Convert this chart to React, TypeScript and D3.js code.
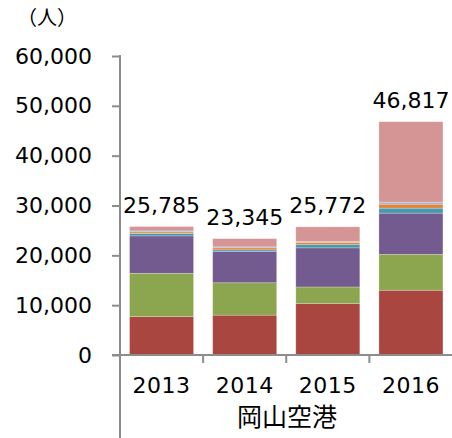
import React, { useEffect, useRef } from "react";
import * as d3 from "d3";

const years = ["2013", "2014", "2015", "2016"];
const totals = [25785, 23345, 25772, 46817];

const seriesNames = ["s1", "s2", "s3", "s4", "s5", "s6", "s7"];
const seriesColors = ["#A9463F", "#8BA64F", "#735A8F", "#4599B1", "#E0843A", "#9DB4D6", "#D59594"];
const s1 = [7700, 8000, 10300, 13000];
const s2 = [8700, 6500, 3350, 7200];
const s3 = [7500, 6300, 7850, 8270];
const s4 = [500, 300, 650, 1000];
const s5 = [300, 400, 450, 800];
const s6 = [200, 200, 150, 400];
const s7 = [885, 1645, 2972, 16147];

const yTicks = [0, 10000, 20000, 30000, 40000, 50000, 60000];
const unitLabel = "（人）";
const groupLabel = "岡山空港";

const App = () => {
  const ref = useRef<SVGSVGElement>(null);

  useEffect(() => {
    const width = 452;
    const height = 438;
    const margin = { top: 56, right: 0, bottom: 83, left: 120 };
    const font = "'DejaVu Sans', Verdana, sans-serif";

    const svg = d3.select(ref.current).attr("width", width).attr("height", height);
    svg.selectAll("*").remove();

    const table = years.map((y, i) => ({
      year: y,
      s1: s1[i], s2: s2[i], s3: s3[i], s4: s4[i], s5: s5[i], s6: s6[i], s7: s7[i],
    }));
    const stacked = d3.stack<any>().keys(seriesNames)(table);

    const x = d3.scaleBand().domain(years).range([margin.left, 452.5]).paddingInner(0.23).paddingOuter(0.115);
    const xOuter = d3.scaleBand().domain(years).range([margin.left, 452.5]);
    const y = d3.scaleLinear().domain([0, 60000]).range([height - margin.bottom, margin.top]);

    // bars
    svg.append("g")
      .selectAll("g")
      .data(stacked)
      .join("g")
      .attr("fill", (d, i) => seriesColors[i])
      .selectAll("rect")
      .data((d) => d)
      .join("rect")
      .attr("x", (d: any) => x(d.data.year)!)
      .attr("y", (d) => y(d[1]))
      .attr("width", x.bandwidth())
      .attr("height", (d) => y(d[0]) - y(d[1]))
      .attr("stroke", "rgba(255,255,255,0.35)")
      .attr("stroke-width", 0.7);

    // value labels
    svg.append("g")
      .selectAll("text")
      .data(totals)
      .join("text")
      .attr("x", (d, i) => x(years[i])! + x.bandwidth() / 2)
      .attr("y", (d) => y(d) - 14)
      .attr("text-anchor", "middle")
      .attr("font-family", font)
      .attr("font-size", 22)
      .attr("fill", "#000")
      .text((d) => d3.format(",")(d));

    // y axis
    const yAxis = d3.axisLeft(y).tickValues(yTicks).tickFormat(d3.format(",") as any).tickSize(8).tickPadding(20);
    svg.append("g")
      .attr("transform", `translate(${margin.left},0)`)
      .call(yAxis)
      .call((g) => g.select(".domain").remove())
      .call((g) => g.selectAll(".tick line").attr("stroke", "#8c8c8c").attr("stroke-width", 2))
      .call((g) => g.selectAll(".tick text").attr("font-family", font).attr("font-size", 22).attr("fill", "#000"));

    svg.append("line")
      .attr("x1", margin.left).attr("x2", margin.left)
      .attr("y1", margin.top - 1).attr("y2", height)
      .attr("stroke", "#8c8c8c").attr("stroke-width", 2);

    // x axis
    const xa = svg.append("g");
    xa.append("line")
      .attr("x1", margin.left - 8).attr("x2", 452)
      .attr("y1", y(0)).attr("y2", y(0))
      .attr("stroke", "#8c8c8c").attr("stroke-width", 2);
    xa.selectAll("line.sep")
      .data(years.slice(1))
      .join("line")
      .attr("class", "sep")
      .attr("x1", (d) => xOuter(d)!).attr("x2", (d) => xOuter(d)!)
      .attr("y1", y(0)).attr("y2", y(0) + 8)
      .attr("stroke", "#8c8c8c").attr("stroke-width", 2);
    xa.selectAll("text")
      .data(years)
      .join("text")
      .attr("x", (d) => xOuter(d)! + xOuter.bandwidth() / 2)
      .attr("y", y(0) + 38)
      .attr("text-anchor", "middle")
      .attr("font-family", font)
      .attr("font-size", 22)
      .attr("letter-spacing", 0.5)
      .attr("fill", "#000")
      .text((d) => d);

    svg.append("text")
      .attr("x", 287)
      .attr("y", y(0) + 71)
      .attr("text-anchor", "middle")
      .attr("font-family", "'Noto Sans CJK JP', sans-serif")
      .attr("font-size", 25)
      .attr("fill", "#000")
      .text(groupLabel);

    svg.append("text")
      .attr("x", 47)
      .attr("y", 25)
      .attr("text-anchor", "middle")
      .attr("font-family", "'Noto Sans CJK JP', sans-serif")
      .attr("font-size", 20)
      .attr("fill", "#000")
      .text(unitLabel);
  });

  return (
    <div style={{ position: "absolute", left: 0, top: 0 }}>
      <svg ref={ref} style={{ display: "block" }}></svg>
    </div>
  );
};

export default App;
